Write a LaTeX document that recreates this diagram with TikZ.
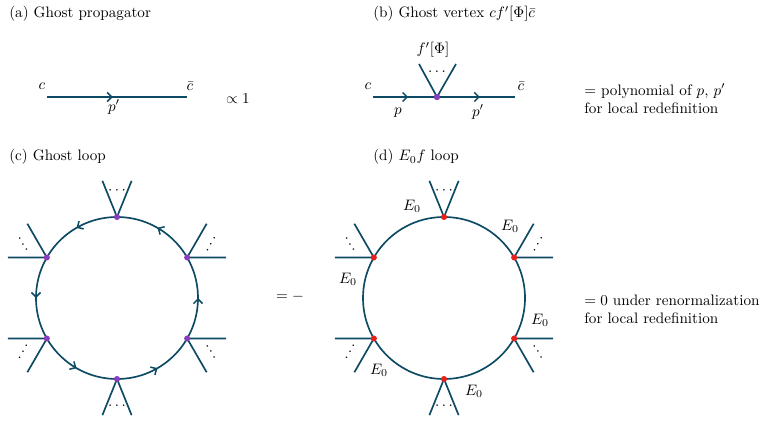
\documentclass[tikz,border=0pt]{standalone}
\usetikzlibrary{arrows.meta,decorations.markings,calc}
\definecolor{ln}{HTML}{0D4A63}
\definecolor{pv}{HTML}{8A3CC0}
\definecolor{rv}{HTML}{E8201B}
\begin{document}
\begin{tikzpicture}[x=0.66pt,y=-0.66pt,
  barb/.tip={Straight Barb[length=3pt,width=6pt,line width=1pt]},
  prop/.style={draw=ln,line width=1.1pt},
  leg/.style={draw=ln,line width=1.1pt},
  mid/.style={postaction={decorate,decoration={markings,mark=at position #1 with {\arrow[ln]{barb}}}}},
  pdot/.style={circle,fill=pv,inner sep=0pt,minimum size=4pt},
  rdot/.style={circle,fill=rv,inner sep=0pt,minimum size=4pt},
  txt/.style={inner sep=0pt,anchor=west},
  lbl/.style={inner sep=1pt}]
\useasboundingbox (0,0) rectangle (778,421);
% titles
\node[txt] (ta) at (9,14) {(a) Ghost propagator};
\node[txt] (tb) at (373,14) {(b) Ghost vertex $cf'[\Phi]\bar c$};
\node[txt] (tc) at (9,157) {(c) Ghost loop};
\node[txt] (td) at (373,157) {(d) $E_0f$ loop};
% (a)
\coordinate (a1) at (47,97); \coordinate (a2) at (187,97);
\draw[prop,mid=0.47] (a1) -- (a2);
\node[lbl] (ac) at (42,86) {$c$};
\node[lbl] (acb) at (190,86) {$\bar c$};
\node[lbl] (ap) at (114,107) {$p'$};
\node[lbl] (aprop) at (238,99) {$\propto 1$};
% (b)
\coordinate (b1) at (373,97); \coordinate (b2) at (515,97);
\node[pdot] (bv) at (437,97) {};
\coordinate (bl1) at (419,64); \coordinate (bl2) at (456,64);
\draw[prop,mid=0.55] (b1) -- (bv.center);
\draw[prop,mid=0.55] (bv.center) -- (b2);
\draw[leg] (bl1) -- (bv.center) -- (bl2);
\node[pdot] at (bv) {};
\node[lbl] (bdots) at (437,72) {$\cdots$};
\node[lbl] (bf) at (433,50) {$f'[\Phi]$};
\node[lbl] (bc) at (368,86) {$c$};
\node[lbl] (bcb) at (521,86) {$\bar c$};
\node[lbl] (bp) at (398,113) {$p$};
\node[lbl] (bpp) at (478,112) {$p'$};
\node[txt] (bt1) at (584,91) {$=$ polynomial of $p$, $p'$};
\node[txt] (bt2) at (584,108) {for local redefinition};
% (c)
\coordinate (cc) at (117,298);
\draw[prop,postaction={decorate,decoration={markings,
  mark=between positions 0.0 and 0.9 step 0.16667 with {\arrow[ln]{barb}}}}]
  (cc) ++(0:81) arc[start angle=0,end angle=-359.99,radius=81];
\coordinate (dc) at (444,298);
\draw[prop] (dc) circle[radius=81];
\foreach \ctr/\sty/\nm in {cc/pdot/c,dc/rdot/d}{
  \foreach \a/\s in {90/22,30/30,-30/30,-90/22,-150/30,150/30}{
    \coordinate (\nm v\a) at ($(\ctr)+(\a:81)$);
    \draw[leg] ($(\nm v\a)+(\a+\s:39)$) -- (\nm v\a) -- ($(\nm v\a)+(\a-\s:39)$);
    \node[lbl,rotate=\a-90] at ($(\nm v\a)+(\a:27)$) {$\cdots$};
    \node[\sty] at (\nm v\a) {};
  }
}
\node[lbl] (eq) at (290,297) {$=-$};
% E0 labels
\node[lbl] (e1) at (412,206) {$E_0$};
\node[lbl] (e2) at (510,226) {$E_0$};
\node[lbl] (e3) at (348,279) {$E_0$};
\node[lbl] (e4) at (540,320) {$E_0$};
\node[lbl] (e5) at (379,370) {$E_0$};
\node[lbl] (e6) at (474,391) {$E_0$};
\node[txt] (dt1) at (584,300) {$=0$ under renormalization};
\node[txt] (dt2) at (584,318) {for local redefinition};
\end{tikzpicture}
\end{document}
